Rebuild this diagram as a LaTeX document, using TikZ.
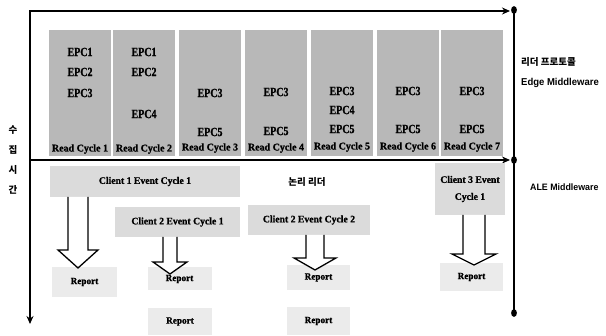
\documentclass[tikz,border=0pt]{standalone}
\usepackage{fontspec}
\setmainfont{Liberation Serif}
\newfontfamily\epcfont{Liberation Serif}[FakeStretch=0.8,FakeBold=1.2]
\newfontfamily\lblfont{Liberation Serif}[FakeStretch=0.97,FakeBold=1]
\newfontfamily\sansfont{Liberation Sans}[FakeStretch=0.95]
\newfontfamily\kofont{Noto Sans CJK KR}
\usetikzlibrary{arrows.meta,calc}
\newcommand\hollowarr[5]{%
  \draw[hollowarrow] let \p1=(#1), \p2=(#2) in
    (\x1-#3pt,\y1) -- (\x1-#3pt,\y2+#5pt) -- (\x1-#4pt,\y2+#5pt) -- (\x1,\y2)
    -- (\x1+#4pt,\y2+#5pt) -- (\x1+#3pt,\y2+#5pt) -- (\x1+#3pt,\y1);}
\begin{document}
\begin{tikzpicture}[x=1pt,y=-1pt,
  >={Stealth[length=8pt,width=7pt]},
  colbox/.style={fill=black!28, minimum width=62pt, minimum height=126pt, inner sep=0pt},
  epc/.style={font=\epcfont\bfseries\fontsize{12.5}{12.5}\selectfont, inner sep=0pt},
  rc/.style={font=\lblfont\bfseries\fontsize{10.3}{10.3}\selectfont, inner sep=0pt},
  clientbox/.style={fill=black!14, inner sep=0pt, font=\lblfont\bfseries\fontsize{10}{10}\selectfont},
  reportbox/.style={fill=black!8, inner sep=0pt, minimum width=64pt, font=\lblfont\bfseries\fontsize{9.5}{9.5}\selectfont},
  axis/.style={line width=2.1pt},
  hollowarrow/.style={line width=1.3pt, fill=white, line join=miter},
  kolbl/.style={font=\kofont\bfseries\fontsize{9.5}{9.5}\selectfont, inner sep=0pt},
  enlbl/.style={font=\sansfont\bfseries\fontsize{10}{10}\selectfont, inner sep=0pt}]
\useasboundingbox (0,0) rectangle (606,336);

% read cycle columns
\node[colbox] (c1) at (80,93) {};
\node[colbox] (c2) at (144,93) {};
\node[colbox] (c3) at (210,93) {};
\node[colbox] (c4) at (276,93) {};
\node[colbox] (c5) at (342,93) {};
\node[colbox] (c6) at (408,93) {};
\node[colbox] (c7) at (472,93) {};

\node[epc] (e11) at (80,52) {EPC1};
\node[epc] (e12) at (80,72) {EPC2};
\node[epc] (e13) at (80,93) {EPC3};
\node[epc] (e21) at (144,52) {EPC1};
\node[epc] (e22) at (144,72) {EPC2};
\node[epc] (e24) at (144,114) {EPC4};
\node[epc] (e33) at (210,93) {EPC3};
\node[epc] (e35) at (210,132) {EPC5};
\node[epc] (e43) at (276,92) {EPC3};
\node[epc] (e45) at (276,131) {EPC5};
\node[epc] (e53) at (342,91) {EPC3};
\node[epc] (e54) at (342,110) {EPC4};
\node[epc] (e55) at (342,129) {EPC5};
\node[epc] (e63) at (408,91) {EPC3};
\node[epc] (e65) at (408,129) {EPC5};
\node[epc] (e73) at (472,91) {EPC3};
\node[epc] (e75) at (472,129) {EPC5};

\node[rc] (r1) at (80,149) {Read Cycle 1};
\node[rc] (r2) at (144,149) {Read Cycle 2};
\node[rc] (r3) at (210,148) {Read Cycle 3};
\node[rc] (r4) at (276,148) {Read Cycle 4};
\node[rc] (r5) at (342,147) {Read Cycle 5};
\node[rc] (r6) at (408,147) {Read Cycle 6};
\node[rc] (r7) at (472,147) {Read Cycle 7};

% axes
\coordinate (tl) at (30,11);
\coordinate (tr) at (510,11);
\coordinate (bl) at (30,324);
\coordinate (ml) at (30,160);
\coordinate (mr) at (510,160);
\coordinate (rt) at (514,10);
\coordinate (rm) at (514,160);
\coordinate (rb) at (514,313);
\draw[axis,<->] (bl) -- (tl) -- (tr);
\draw[axis,->] (ml) -- (mr);
\draw[line width=1.8pt] (rt) -- (rb);
\fill (rt) ellipse (2.9 and 3.9);
\fill (rm) ellipse (2.9 and 3.9);
\fill (rb) ellipse (2.9 and 3.9);

% labels
\node[kolbl, font=\kofont\bfseries\fontsize{9.5}{20}\selectfont, align=center] (ylab) at (13,160) {수\\집\\시\\간};
\node[kolbl, anchor=west] (proto) at (521,62) {리더 프로토콜};
\node[enlbl, anchor=west] (edge) at (521,83) {Edge Middleware};
\node[enlbl, anchor=west, font=\sansfont\bfseries\fontsize{9.3}{9.3}\selectfont] (ale) at (530,187) {ALE Middleware};
\node[kolbl] (logic) at (307,182) {논리 리더};

% event cycles
\node[clientbox, minimum width=190pt, minimum height=31pt] (cl1) at (145,181.5) {Client 1 Event Cycle 1};
\node[clientbox, minimum width=125pt, minimum height=30pt] (cl2) at (177.5,222) {Client 2 Event Cycle 1};
\node[clientbox, minimum width=122pt, minimum height=30pt] (cl3) at (309,220) {Client 2 Event Cycle 2};
\node[clientbox, minimum width=70pt, minimum height=52pt, align=center,
      font=\lblfont\bfseries\fontsize{10}{17}\selectfont] (cl4) at (470,189) {Client 3 Event\\Cycle 1};

% reports
\node[reportbox, minimum width=65pt, minimum height=30pt] (rep1) at (84.5,282) {Report};
\node[reportbox, minimum height=23pt] (rep2) at (179.5,279) {Report};
\node[reportbox, minimum height=27pt] (rep3) at (180,321.5) {Report};
\node[reportbox, minimum width=63pt, minimum height=25pt] (rep4) at (318.5,277.5) {Report};
\node[reportbox, minimum width=63pt, minimum height=28pt] (rep5) at (318.5,321) {Report};
\node[reportbox, minimum width=63pt, minimum height=28pt] (rep6) at (471.5,277) {Report};

% block arrows
\coordinate (a1s) at (78,197);  \coordinate (a1e) at (78,268);
\coordinate (a2s) at (170,237); \coordinate (a2e) at (170,274);
\coordinate (a3s) at (315,235); \coordinate (a3e) at (315,270);
\coordinate (a4s) at (474,215); \coordinate (a4e) at (474,265);
\hollowarr{a1s}{a1e}{10}{20}{18}
\hollowarr{a2s}{a2e}{7}{17}{12}
\hollowarr{a3s}{a3e}{9}{21}{12}
\hollowarr{a4s}{a4e}{11}{22}{11}
\end{tikzpicture}
\end{document}
